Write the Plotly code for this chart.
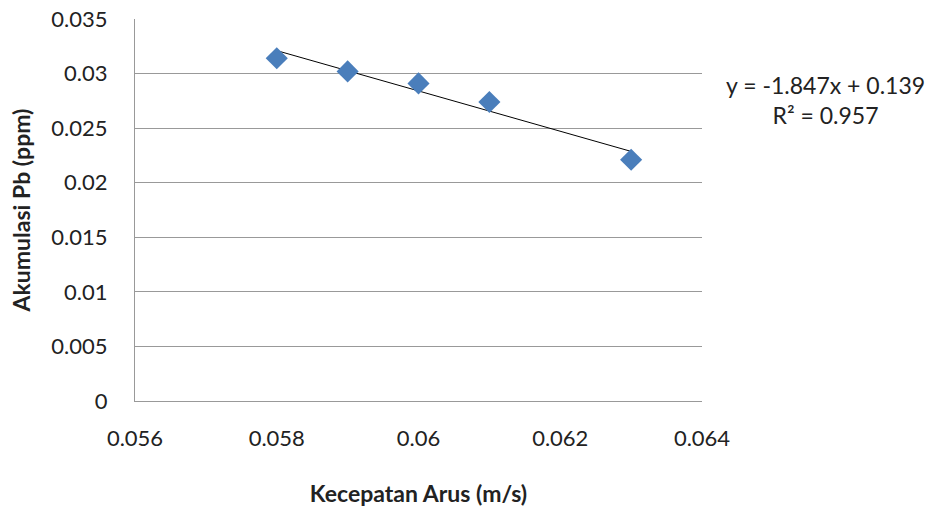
import numpy as np
import plotly.graph_objects as go

kecepatan = [0.058, 0.059, 0.060, 0.061, 0.063]
akumulasi_pb = [0.0314, 0.0302, 0.0291, 0.0274, 0.0221]
x_ticks = [0.056, 0.058, 0.060, 0.062, 0.064]
x_tick_text = ["0.056", "0.058", "0.06", "0.062", "0.064"]
y_ticks = [0, 0.005, 0.01, 0.015, 0.02, 0.025, 0.03, 0.035]
y_tick_text = ["0", "0.005", "0.01", "0.015", "0.02", "0.025", "0.03", "0.035"]
equation_text = "y = -1.847x + 0.139<br>R² = 0.957"

slope, intercept = np.polyfit(kecepatan, akumulasi_pb, 1)
tx = [min(kecepatan), max(kecepatan)]
ty = [slope * v + intercept for v in tx]

font = "Lato"
fig = go.Figure()
fig.add_trace(go.Scatter(x=tx, y=ty, mode="lines",
                         line=dict(color="black", width=1), showlegend=False, hoverinfo="skip"))
fig.add_trace(go.Scatter(x=kecepatan, y=akumulasi_pb, mode="markers",
                         marker=dict(symbol="diamond", size=17, color="#4A7EBB",
                                     line=dict(width=0)), showlegend=False))

fig.update_layout(
    width=928, height=511,
    margin=dict(l=135, r=226, t=19, b=110),
    plot_bgcolor="white", paper_bgcolor="white",
    font=dict(family=font, size=22, color="#222"),
    xaxis=dict(range=[0.056, 0.064], tickvals=x_ticks, ticktext=x_tick_text,
               showgrid=False, zeroline=False, showline=True, linecolor="#999", linewidth=1,
               ticks="outside", ticklen=0, ticklabelstandoff=18, automargin=False,
               title=dict(text="<b>Kecepatan Arus (m/s)</b>", font=dict(size=23), standoff=35)),
    yaxis=dict(range=[0, 0.035], tickvals=y_ticks, ticktext=y_tick_text,
               showgrid=True, gridcolor="#999", gridwidth=1, zeroline=False,
               showline=True, linecolor="#999", linewidth=1,
               ticks="outside", ticklen=0, ticklabelstandoff=22, automargin=False,
               title=dict(text="<b>Akumulasi Pb (ppm)</b>", font=dict(size=23), standoff=14)),
    annotations=[dict(text=equation_text, xref="paper", yref="paper", x=(825 - 135) / 567,
                      y=1 - (100 - 19) / 382,
                      showarrow=False, align="center", font=dict(size=23, color="#222"),
                      xanchor="center", yanchor="middle")],
)
fig.write_html("out.html", config={"displayModeBar": False},
               post_script="document.body.style.margin='0';document.body.style.overflow='hidden';")
